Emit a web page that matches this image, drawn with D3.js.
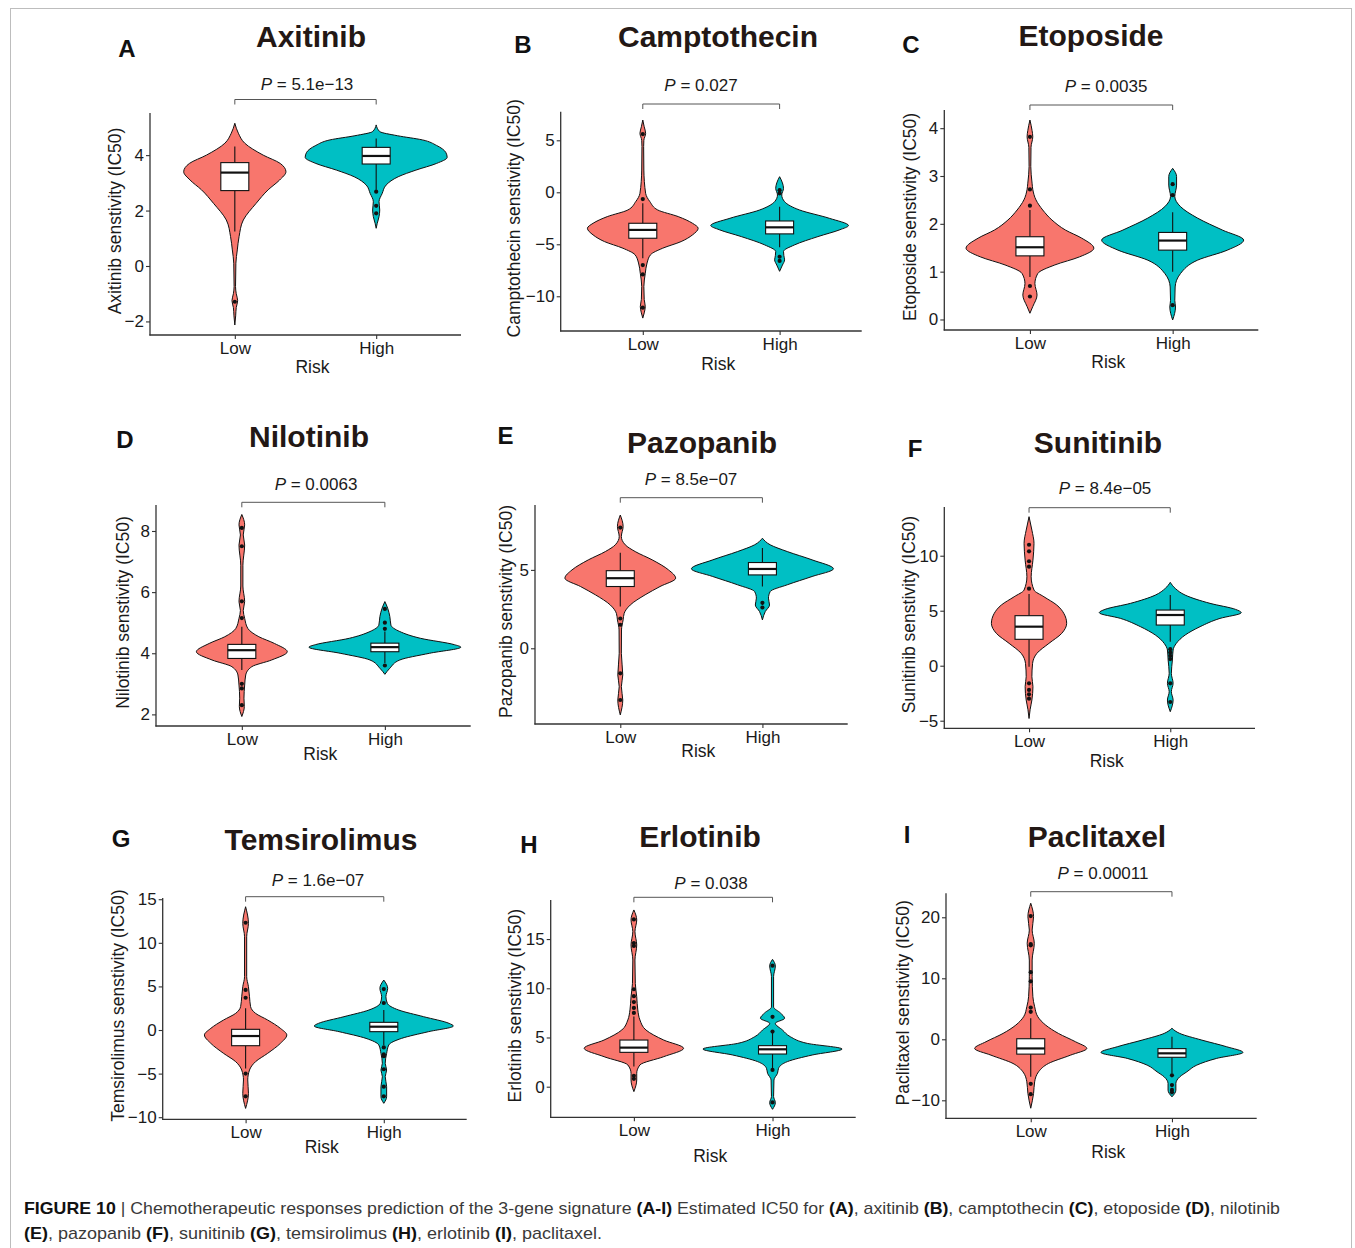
<!DOCTYPE html>
<html><head><meta charset="utf-8">
<script src="https://cdn.jsdelivr.net/npm/d3@7"></script>
<style>body{margin:0;background:#fff}</style>
</head><body>
<svg id="fig" width="1355" height="1248"></svg>
<script>
// ---------------- DATA ----------------
const drugs = ["Axitinib","Camptothecin","Etoposide","Nilotinib","Pazopanib","Sunitinib","Temsirolimus","Erlotinib","Paclitaxel"];
const panelLetters = ["A","B","C","D","E","F","G","H","I"];
const pLabels = ["5.1e\u221213","0.027","0.0035","0.0063","8.5e\u221207","8.4e\u221205","1.6e\u221207","0.038","0.00011"];
const riskGroups = ["Low","High"];
const yTickValues = [[-2,0,2,4],[-10,-5,0,5],[0,1,2,3,4],[2,4,6,8],[0,5],[-5,0,5,10],[-10,-5,0,5,10,15],[0,5,10,15],[-10,0,10,20]];

// violin density profiles: [value, relative density]
const violinLow = [
  [[5.15,0],[4.79,0.05],[4.43,0.14],[4.0,0.4],[3.7,0.64],[3.4,0.72],[3.1,0.63],[2.75,0.47],[2.26,0.3],[1.66,0.12],[1.06,0.06],[0.58,0.035],[0.1,0.015],[-0.74,0.01],[-1.0,0.02],[-1.25,0.04],[-1.5,0.02],[-1.8,0.012],[-2.13,0]],
  [[6.95,0],[6.3,0.02],[5.67,0.04],[5.0,0.015],[4.4,0.012],[2.14,0.015],[-0.1,0.04],[-0.9,0.1],[-1.7,0.21],[-2.34,0.5],[-2.98,0.7],[-3.46,0.78],[-4.1,0.7],[-4.74,0.54],[-5.38,0.28],[-6.0,0.11],[-6.8,0.06],[-7.8,0.035],[-9.07,0.015],[-10.3,0.02],[-11,0.035],[-11.6,0.02],[-12.1,0]],
  [[4.17,0],[3.95,0.03],[3.82,0.04],[3.6,0.015],[3.2,0.012],[2.85,0.03],[2.72,0.04],[2.5,0.085],[2.29,0.18],[2.08,0.31],[1.87,0.5],[1.7,0.73],[1.49,0.9],[1.31,0.7],[1.14,0.35],[0.96,0.11],[0.75,0.07],[0.51,0.1],[0.27,0.04],[0.13,0]],
  [[8.54,0],[8.2,0.04],[7.87,0.02],[7.54,0.04],[6.88,0.015],[6.2,0.015],[5.69,0.04],[5.4,0.02],[5.14,0.04],[4.81,0.085],[4.54,0.24],[4.32,0.46],[4.05,0.64],[3.78,0.42],[3.56,0.14],[3.29,0.055],[2.96,0.04],[2.53,0.03],[2.26,0.035],[1.93,0]],
  [[8.5,0],[7.77,0.04],[7.13,0.015],[6.6,0.07],[6.17,0.21],[5.64,0.45],[5.0,0.68],[4.47,0.78],[3.94,0.56],[3.41,0.35],[2.76,0.14],[2.23,0.055],[1.81,0.04],[1.17,0.017],[-0.32,0.015],[-1.7,0.035],[-2.45,0.015],[-3.3,0.035],[-4.25,0]],
  [[13.55,0],[12.33,0.04],[11.12,0.07],[9.6,0.055],[8.09,0.03],[6.88,0.07],[6.27,0.21],[5.52,0.39],[4.76,0.49],[3.85,0.53],[2.94,0.46],[2.03,0.28],[1.12,0.11],[0.21,0.05],[-1.0,0.04],[-1.9,0.055],[-3.12,0.04],[-4.0,0.015],[-4.8,0]],
  [[14.14,0],[12.23,0.04],[10.7,0.015],[6.12,0.015],[4.97,0.04],[3.82,0.055],[2.68,0.07],[1.91,0.14],[1.15,0.31],[0.19,0.49],[-0.57,0.58],[-1.53,0.49],[-2.68,0.31],[-3.63,0.14],[-4.59,0.055],[-5.73,0.03],[-7.26,0.04],[-8.99,0]],
  [[17.96,0],[16.94,0.04],[15.76,0.015],[14.4,0.04],[12.87,0.015],[10.49,0.02],[9.15,0.04],[7.8,0.055],[6.78,0.085],[5.76,0.17],[4.74,0.42],[3.9,0.7],[3.05,0.42],[2.21,0.085],[1.36,0.04],[0.68,0.04],[-0.5,0]],
  [[22.3,0],[20.1,0.04],[17.9,0.02],[15.73,0.05],[12.99,0.02],[10.26,0.02],[6.98,0.03],[5.34,0.055],[3.7,0.1],[2.33,0.21],[0.96,0.39],[-0.4,0.63],[-1.5,0.79],[-2.6,0.56],[-3.96,0.25],[-5.33,0.11],[-6.97,0.055],[-8.88,0.04],[-11.3,0]]
];
const violinHigh = [
  [[5.09,0],[4.85,0.05],[4.7,0.3],[4.55,0.65],[4.35,0.85],[4.1,0.98],[3.92,1.0],[3.7,0.85],[3.46,0.56],[3.22,0.31],[2.92,0.14],[2.62,0.085],[2.32,0.04],[2.02,0.05],[1.78,0.04],[1.54,0.015],[1.36,0]],
  [[1.5,0],[0.9,0.04],[0.38,0.055],[-0.26,0.03],[-0.9,0.07],[-1.7,0.28],[-2.5,0.7],[-3.2,0.97],[-3.6,0.85],[-4.26,0.54],[-5.06,0.21],[-5.7,0.055],[-6.1,0.06],[-6.5,0.07],[-7.0,0.04],[-7.6,0]],
  [[3.16,0],[2.99,0.055],[2.81,0.055],[2.57,0.03],[2.36,0.11],[2.12,0.35],[1.87,0.7],[1.66,1.0],[1.45,0.77],[1.24,0.35],[0.96,0.11],[0.68,0.035],[0.4,0.03],[0.26,0.04],[-0.01,0]],
  [[5.69,0],[5.47,0.04],[5.2,0.07],[4.92,0.085],[4.71,0.21],[4.49,0.5],[4.28,0.98],[4.2,1.07],[4.0,0.63],[3.78,0.21],[3.51,0.07],[3.31,0]],
  [[7.02,0],[6.6,0.11],[6.17,0.35],[5.64,0.7],[5.07,1.0],[4.58,0.7],[4.05,0.35],[3.62,0.11],[3.2,0.085],[2.76,0.1],[2.34,0.04],[1.81,0]],
  [[7.58,0],[7.03,0.07],[6.42,0.21],[5.67,0.56],[5.12,0.92],[4.82,1.0],[4.3,0.7],[3.55,0.42],[2.79,0.21],[2.03,0.085],[1.43,0.04],[0.52,0.03],[-0.69,0.015],[-1.6,0.04],[-2.36,0.015],[-3.12,0.04],[-4.18,0]],
  [[5.73,0],[4.78,0.055],[3.82,0.03],[3.06,0.05],[2.29,0.21],[1.53,0.56],[0.76,0.92],[0.46,0.98],[-0.19,0.63],[-0.96,0.25],[-1.72,0.07],[-2.68,0.04],[-3.82,0.02],[-4.59,0.04],[-5.35,0.02],[-6.5,0.04],[-7.65,0.04],[-8.41,0]],
  [[12.94,0],[12.27,0.04],[11.19,0.015],[8.1,0.015],[7.5,0.11],[6.95,0.17],[6.44,0.04],[5.76,0.14],[5.08,0.25],[4.4,0.49],[3.83,0.98],[3.22,0.56],[2.55,0.21],[1.87,0.085],[1.36,0.07],[0.68,0.02],[-1.0,0.015],[-1.62,0.04],[-2.3,0]],
  [[1.8,0],[0.96,0.11],[-0.13,0.42],[-1.22,0.77],[-2.15,1.0],[-3.13,0.63],[-4.23,0.35],[-5.33,0.21],[-6.15,0.11],[-7.24,0.055],[-8.34,0.055],[-9.43,0]]
];
// box stats: [whisker low, Q1, median, Q3, whisker high]
const boxLow = [[1.24,2.72,3.37,3.73,4.31],[-6.35,-4.42,-3.62,-2.98,-1.06],[0.89,1.33,1.51,1.73,2.29],[3.45,3.83,4.1,4.29,4.87],[2.66,3.94,4.47,4.95,6.1],[-0.09,2.4,3.55,4.55,6.52],[-4.4,-1.8,-0.69,0.08,2.5],[2.04,3.49,3.97,4.74,7.12],[-6.14,-2.43,-1.5,0.09,3.43]];
const boxHigh = [[2.75,3.68,3.97,4.28,4.6],[-5.29,-4.0,-3.37,-2.76,-1.38],[1.0,1.45,1.65,1.82,2.24],[3.68,4.05,4.2,4.33,4.71],[3.94,4.68,5.06,5.47,6.39],[2.18,3.7,4.61,5.06,6.42],[-1.72,-0.19,0.38,0.88,2.29],[1.87,3.32,3.8,4.17,5.76],[-5.6,-2.95,-2.3,-1.53,0.4]];
const outliersLow = [[-1.29],[5.6,-0.65,-7.0,-7.9,-11.1],[3.82,2.72,2.38,0.7,0.48],[8.1,7.5,5.7,5.15,3.0,2.85,2.3],[7.7,1.9,1.5,-1.6,-3.3],[11.0,10.4,9.5,9.0,7.0,-1.6,-2.2,-2.6,-3.0],[12.3,4.6,3.7,-5.0,-7.6],[17.0,14.6,14.3,9.9,9.2,8.6,8.0,7.5,1.1,0.8],[20.2,15.6,15.4,11,9.5,5.2,4.5,-7.3,-9.0]];
const outliersHigh = [[2.68,2.17,1.9],[0.2,-0.1,-6.2,-6.6],[2.83,2.6,0.3],[5.45,5.0,4.8,3.6],[2.9,2.6],[1.5,1.2,0.9,0.6,-1.6,-3.3],[4.7,3.1,-2.0,-2.8,-3.0,-4.5,-6.5,-7.6],[12.3,7.1,5.6,1.7,-1.6],[-5.9,-7.5,-8.3,-8.7]];

// caption segments [text, bold]
const caption1 = [["FIGURE 10",true],[" | Chemotherapeutic responses prediction of the 3-gene signature ",false],["(A-I)",true],[" Estimated IC50 for ",false],["(A)",true],[", axitinib ",false],["(B)",true],[", camptothecin ",false],["(C)",true],[", etoposide ",false],["(D)",true],[", nilotinib",false]];
const caption2 = [["(E)",true],[", pazopanib ",false],["(F)",true],[", sunitinib ",false],["(G)",true],[", temsirolimus ",false],["(H)",true],[", erlotinib ",false],["(I)",true],[", paclitaxel.",false]];

// ---------------- LAYOUT ----------------
const layout = [
 {left:150, right:461, top:113, bottom:335, yMin:-2.49, yMax:5.52, letter:[127,57], title:[311,47], p:[307,90], bracketY:99.5, riskDY:38, yTitleX:115},
 {left:560.7, right:861.7, top:111.7, bottom:331, yMin:-13.34, yMax:7.75, letter:[523,53], title:[718,47], p:[701,91], bracketY:104, riskDY:39, yTitleX:514},
 {left:944.3, right:1258.3, top:110, bottom:330, yMin:-0.22, yMax:4.38, letter:[911,53], title:[1091,46], p:[1106,91.5], bracketY:105, riskDY:38, yTitleX:910},
 {left:156, right:470.7, top:505, bottom:726, yMin:1.62, yMax:8.85, letter:[125,448], title:[309,447], p:[316,490], bracketY:502.3, riskDY:34, yTitleX:123},
 {left:535, right:847.7, top:505, bottom:724, yMin:-4.83, yMax:9.14, letter:[505.5,443.5], title:[702,453], p:[691,485], bracketY:497.7, riskDY:33, yTitleX:505.5},
 {left:944.3, right:1255, top:507, bottom:728.3, yMin:-5.69, yMax:14.43, letter:[915,457], title:[1098,453], p:[1105,494], bracketY:507.7, riskDY:39, yTitleX:909},
 {left:162.7, right:466.7, top:898, bottom:1119.3, yMin:-10.24, yMax:15.14, letter:[121,847], title:[321,850], p:[318,886], bracketY:896.7, riskDY:34, yTitleX:117.5},
 {left:550.7, right:855.7, top:900, bottom:1117.3, yMin:-3.11, yMax:18.97, letter:[529,853], title:[700,847], p:[711,889], bracketY:897.3, riskDY:45, yTitleX:515},
 {left:946, right:1256.7, top:893.3, bottom:1118.3, yMin:-12.95, yMax:23.93, letter:[907,843], title:[1097,847], p:[1103,879], bracketY:891.7, riskDY:40, yTitleX:902.5}
];

// ---------------- DRAW ----------------
const FONT = "'Liberation Sans', Arial, Helvetica, sans-serif";
const fills = ["#F8766D", "#00BFC4"];
const svg = d3.select("#fig");
svg.append("rect").attr("width",1355).attr("height",1248).attr("fill","#fff");
svg.append("rect").attr("x",10.5).attr("y",8.5).attr("width",1341).attr("height",1270)
   .attr("fill","none").attr("stroke","#bdbdbd").attr("stroke-width",1);

const wScale = d3.scaleLinear().domain([0,1]).range([0,71]);
const boxHalf = 14;
const tickFmt = d3.format("d");

drugs.forEach((drug, i) => {
  const L = layout[i];
  const g = svg.append("g").attr("font-family", FONT);
  const x = d3.scalePoint().domain(riskGroups).range([L.left, L.right]).padding(0.6);
  const y = d3.scaleLinear().domain([L.yMin, L.yMax]).range([L.bottom, L.top]);
  const violins = [violinLow[i], violinHigh[i]];
  const boxes = [boxLow[i], boxHigh[i]];
  const outs = [outliersLow[i], outliersHigh[i]];

  riskGroups.forEach((grp, j) => {
    const cx = x(grp);
    const area = d3.area().curve(d3.curveMonotoneY)
      .y(d => y(d[0])).x0(d => cx - wScale(d[1])).x1(d => cx + wScale(d[1]));
    g.append("path").attr("d", area(violins[j])).attr("fill", fills[j])
      .attr("stroke", "#111").attr("stroke-width", 1);
    const [lo, q1, md, q3, hi] = boxes[j];
    g.append("line").attr("x1", cx).attr("x2", cx).attr("y1", y(hi)).attr("y2", y(q3))
      .attr("stroke", "#111").attr("stroke-width", 1.1);
    g.append("line").attr("x1", cx).attr("x2", cx).attr("y1", y(q1)).attr("y2", y(lo))
      .attr("stroke", "#111").attr("stroke-width", 1.1);
    g.append("rect").attr("x", cx - boxHalf).attr("width", boxHalf * 2)
      .attr("y", y(q3)).attr("height", y(q1) - y(q3))
      .attr("fill", "#fff").attr("stroke", "#111").attr("stroke-width", 1.1);
    g.append("line").attr("x1", cx - boxHalf).attr("x2", cx + boxHalf).attr("y1", y(md)).attr("y2", y(md))
      .attr("stroke", "#111").attr("stroke-width", 2.2);
    g.selectAll(null).data(outs[j]).enter().append("circle")
      .attr("cx", cx).attr("cy", d => y(d)).attr("r", 2.1).attr("fill", "#111");
  });

  // axes
  const yAxis = d3.axisLeft(y).tickValues(yTickValues[i]).tickFormat(tickFmt)
    .tickSize(4).tickSizeOuter(0).tickPadding(2);
  const ya = g.append("g").attr("transform", `translate(${L.left},0)`).call(yAxis);
  const xAxis = d3.axisBottom(x).tickSize(4).tickSizeOuter(0).tickPadding(3);
  const xa = g.append("g").attr("transform", `translate(0,${L.bottom})`).call(xAxis);
  [ya, xa].forEach(a => {
    a.select(".domain").attr("stroke", "#333").attr("stroke-width", 1.3);
    a.selectAll(".tick line").attr("stroke", "#333").attr("stroke-width", 1.1);
    a.selectAll(".tick text").attr("fill", "#1a1a1a").attr("font-size", 17).attr("font-family", FONT);
  });
  ya.select(".domain").attr("d", `M0,${L.top}V${L.bottom + 0.6}`);
  xa.select(".domain").attr("d", `M${L.left - 0.6},0H${L.right}`);

  // axis titles
  g.append("text").attr("x", (L.left + L.right) / 2 + 7).attr("y", L.bottom + L.riskDY)
    .attr("text-anchor", "middle").attr("font-size", 17.5).attr("fill", "#1a1a1a").text("Risk");
  g.append("text").attr("transform", `translate(${L.yTitleX},${(L.top + L.bottom) / 2 - 3}) rotate(-90)`)
    .attr("text-anchor", "middle").attr("dy", "0.35em").attr("font-size", 17.5).attr("fill", "#1a1a1a")
    .text(drug + " senstivity (IC50)");

  // panel letter and title
  g.append("text").attr("x", L.letter[0]).attr("y", L.letter[1]).attr("text-anchor", "middle")
    .attr("font-size", 24).attr("font-weight", "bold").attr("fill", "#111").text(panelLetters[i]);
  g.append("text").attr("x", L.title[0]).attr("y", L.title[1]).attr("text-anchor", "middle")
    .attr("font-size", 30).attr("font-weight", "bold").attr("fill", "#231815").text(drug);

  // p-value bracket
  const xl = x("Low"), xh = x("High");
  g.append("path").attr("d", `M${xl},${L.bracketY + 5}V${L.bracketY}H${xh}V${L.bracketY + 5}`)
    .attr("fill", "none").attr("stroke", "#555").attr("stroke-width", 1);
  const pt = g.append("text").attr("x", L.p[0]).attr("y", L.p[1]).attr("text-anchor", "middle")
    .attr("font-size", 17).attr("fill", "#1a1a1a");
  pt.append("tspan").attr("font-style", "italic").text("P");
  pt.append("tspan").text(" = " + pLabels[i]);
});

// caption
function captionLine(segs, yPos, len) {
  const t = svg.append("text").attr("x", 24).attr("y", yPos)
    .attr("font-family", "'Liberation Sans Narrow', 'Arial Narrow', 'Liberation Sans', Arial, sans-serif")
    .attr("font-size", 17).attr("textLength", len).attr("lengthAdjust", "spacingAndGlyphs");
  segs.forEach(([s, b]) => {
    t.append("tspan").attr("font-weight", b ? "bold" : "normal").attr("fill", b ? "#111" : "#3a3a3a").text(s);
  });
}
captionLine(caption1, 1214, 1256);
captionLine(caption2, 1239, 578);
</script>
</body></html>
